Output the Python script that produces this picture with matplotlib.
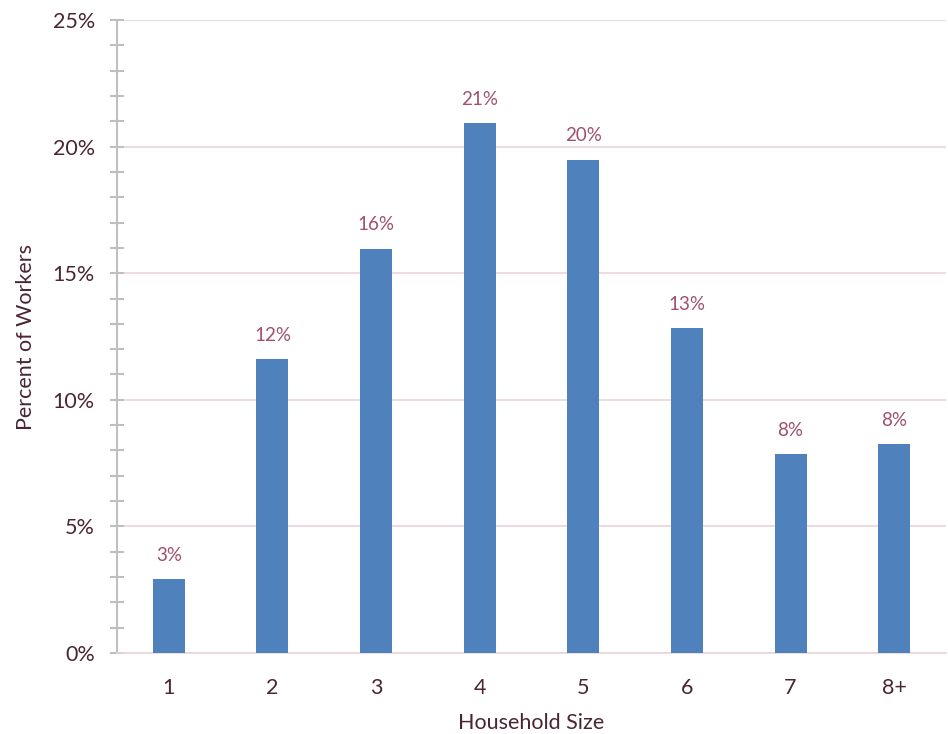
import matplotlib
matplotlib.use("Agg")
import matplotlib.pyplot as plt
from matplotlib.ticker import MultipleLocator, FuncFormatter

plt.rcParams['font.family'] = ['Lato', 'DejaVu Sans']

categories = ["1", "2", "3", "4", "5", "6", "7", "8+"]
values = [2.92, 11.62, 15.97, 20.93, 19.48, 12.84, 7.86, 8.25]
labels = ["3%", "12%", "16%", "21%", "20%", "13%", "8%", "8%"]

text_col = "#4a2535"
lab_col = "#a05068"
bar_col = "#4f81bd"

fig = plt.figure(figsize=(9.48, 7.34), dpi=100)
ax = fig.add_axes([117/948, 1-653/734, (946-117)/948, (653-20)/734])

x = list(range(len(categories)))
ax.bar(x, values, width=0.31, color=bar_col, zorder=3)
for xi, v, l in zip(x, values, labels):
    ax.annotate(l, (xi, v), xytext=(0, 11), textcoords="offset points",
                ha="center", va="bottom", color=lab_col, fontsize=13.5)

ax.set_xlim(-0.5, len(categories) - 0.5)
ax.set_ylim(0, 25)
ax.yaxis.set_major_locator(MultipleLocator(5))
ax.yaxis.set_minor_locator(MultipleLocator(1))
ax.yaxis.set_major_formatter(FuncFormatter(lambda v, p: f"{v:.0f}%"))
ax.set_xticks(x)
ax.set_xticklabels(categories)

ax.grid(axis="y", which="major", color="#ecd3da", linewidth=1.2, zorder=0)
for s in ["top", "right"]:
    ax.spines[s].set_visible(False)
ax.spines["left"].set_color("#bfbfbf")
ax.spines["left"].set_linewidth(1.5)
ax.spines["bottom"].set_color("#ecd3da")
ax.spines["bottom"].set_linewidth(1.2)

ax.tick_params(axis="y", which="both", direction="inout", length=10, width=1.5,
               color="#bfbfbf", labelcolor=text_col, labelsize=15.5, pad=11)
ax.tick_params(axis="y", which="minor", length=10)
ax.tick_params(axis="x", length=0, labelcolor=text_col, labelsize=15.5, pad=18)

ax.set_xlabel("Household Size", color=text_col, fontsize=15.5, labelpad=11)
ax.set_ylabel("Percent of Workers", color=text_col, fontsize=15.5, labelpad=12)

fig.savefig("out.png", dpi=100)
